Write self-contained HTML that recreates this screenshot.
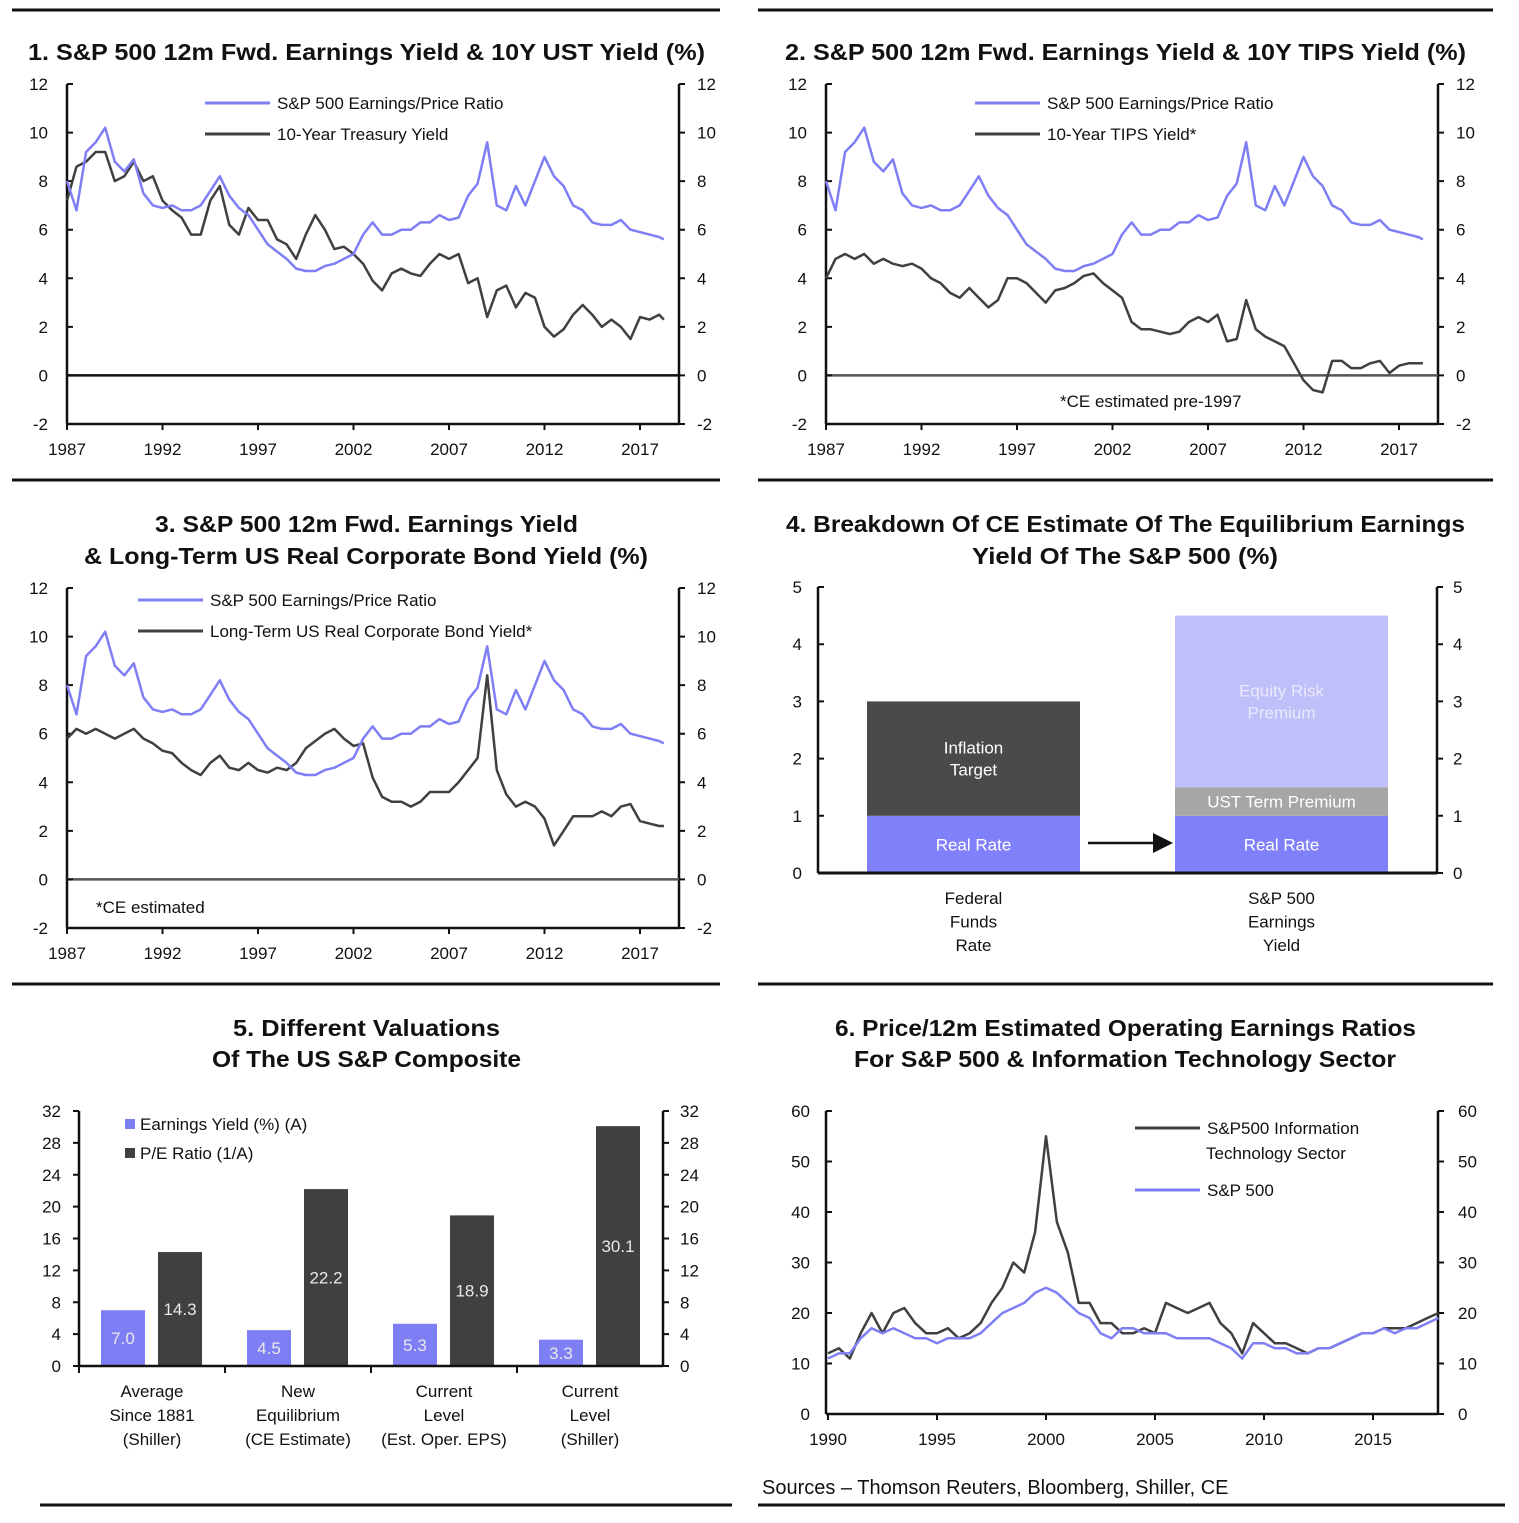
<!DOCTYPE html>
<html><head><meta charset="utf-8"><style>
html,body{margin:0;padding:0;background:#fff;}
svg{display:block;font-family:"Liberation Sans",sans-serif;}
.t{font-weight:bold;font-size:23px;fill:#111;}
.k{font-size:17px;fill:#111;}
</style></head><body>
<svg id="c" width="1519" height="1523" viewBox="0 0 1519 1523" xmlns="http://www.w3.org/2000/svg">
<g stroke="#111" stroke-width="3">
<line x1="12" y1="10" x2="720" y2="10"/><line x1="758" y1="10" x2="1493" y2="10"/>
<line x1="12" y1="480" x2="720" y2="480"/><line x1="758" y1="480" x2="1493" y2="480"/>
<line x1="12" y1="984" x2="720" y2="984"/><line x1="758" y1="984" x2="1493" y2="984"/>
<line x1="40" y1="1505" x2="732" y2="1505"/><line x1="758" y1="1505" x2="1505" y2="1505"/>
</g>
<text class="t" x="28" y="60" textLength="677" lengthAdjust="spacingAndGlyphs">1. S&amp;P 500 12m Fwd. Earnings Yield &amp; 10Y UST Yield (%)</text>
<text class="t" x="785" y="60" textLength="681" lengthAdjust="spacingAndGlyphs">2. S&amp;P 500 12m Fwd. Earnings Yield &amp; 10Y TIPS Yield (%)</text>
<text class="t" x="155" y="532" textLength="423" lengthAdjust="spacingAndGlyphs">3. S&amp;P 500 12m Fwd. Earnings Yield</text>
<text class="t" x="84" y="564" textLength="564" lengthAdjust="spacingAndGlyphs">&amp; Long-Term US Real Corporate Bond Yield (%)</text>
<text class="t" x="786" y="532" textLength="679" lengthAdjust="spacingAndGlyphs">4. Breakdown Of CE Estimate Of The Equilibrium Earnings</text>
<text class="t" x="972" y="564" textLength="306" lengthAdjust="spacingAndGlyphs">Yield Of The S&amp;P 500 (%)</text>
<text class="t" x="233" y="1036" textLength="267" lengthAdjust="spacingAndGlyphs">5. Different Valuations</text>
<text class="t" x="212" y="1067" textLength="309" lengthAdjust="spacingAndGlyphs">Of The US S&amp;P Composite</text>
<text class="t" x="835" y="1036" textLength="581" lengthAdjust="spacingAndGlyphs">6. Price/12m Estimated Operating Earnings Ratios</text>
<text class="t" x="854" y="1067" textLength="542" lengthAdjust="spacingAndGlyphs">For S&amp;P 500 &amp; Information Technology Sector</text>
<text x="762" y="1494" font-size="20" fill="#111">Sources – Thomson Reuters, Bloomberg, Shiller, CE</text>
</svg>
<script>
const years = [1987,1987.5,1988,1988.5,1989,1989.5,1990,1990.5,1991,1991.5,1992,1992.5,1993,1993.5,1994,1994.5,1995,1995.5,1996,1996.5,1997,1997.5,1998,1998.5,1999,1999.5,2000,2000.5,2001,2001.5,2002,2002.5,2003,2003.5,2004,2004.5,2005,2005.5,2006,2006.5,2007,2007.5,2008,2008.5,2009,2009.5,2010,2010.5,2011,2011.5,2012,2012.5,2013,2013.5,2014,2014.5,2015,2015.5,2016,2016.5,2017,2017.5,2018,2018.25];
const epRatio = [8.0,6.8,9.2,9.6,10.2,8.8,8.4,8.9,7.5,7.0,6.9,7.0,6.8,6.8,7.0,7.6,8.2,7.4,6.9,6.6,6.0,5.4,5.1,4.8,4.4,4.3,4.3,4.5,4.6,4.8,5.0,5.8,6.3,5.8,5.8,6.0,6.0,6.3,6.3,6.6,6.4,6.5,7.4,7.9,9.6,7.0,6.8,7.8,7.0,8.0,9.0,8.2,7.8,7.0,6.8,6.3,6.2,6.2,6.4,6.0,5.9,5.8,5.7,5.6];
const ust10y = [7.2,8.6,8.8,9.2,9.2,8.0,8.2,8.8,8.0,8.2,7.2,6.8,6.5,5.8,5.8,7.2,7.8,6.2,5.8,6.9,6.4,6.4,5.6,5.4,4.8,5.8,6.6,6.0,5.2,5.3,5.0,4.6,3.9,3.5,4.2,4.4,4.2,4.1,4.6,5.0,4.8,5.0,3.8,4.0,2.4,3.5,3.7,2.8,3.4,3.2,2.0,1.6,1.9,2.5,2.9,2.5,2.0,2.3,2.0,1.5,2.4,2.3,2.5,2.3];
const tips10y = [4.0,4.8,5.0,4.8,5.0,4.6,4.8,4.6,4.5,4.6,4.4,4.0,3.8,3.4,3.2,3.6,3.2,2.8,3.1,4.0,4.0,3.8,3.4,3.0,3.5,3.6,3.8,4.1,4.2,3.8,3.5,3.2,2.2,1.9,1.9,1.8,1.7,1.8,2.2,2.4,2.2,2.5,1.4,1.5,3.1,1.9,1.6,1.4,1.2,0.5,-0.2,-0.6,-0.7,0.6,0.6,0.3,0.3,0.5,0.6,0.1,0.4,0.5,0.5,0.5];
const corpBond = [5.8,6.2,6.0,6.2,6.0,5.8,6.0,6.2,5.8,5.6,5.3,5.2,4.8,4.5,4.3,4.8,5.1,4.6,4.5,4.8,4.5,4.4,4.6,4.5,4.8,5.4,5.7,6.0,6.2,5.8,5.5,5.6,4.2,3.4,3.2,3.2,3.0,3.2,3.6,3.6,3.6,4.0,4.5,5.0,8.4,4.5,3.5,3.0,3.2,3.0,2.5,1.4,2.0,2.6,2.6,2.6,2.8,2.6,3.0,3.1,2.4,2.3,2.2,2.2];
const yearTicks = [1987,1992,1997,2002,2007,2012,2017];
const yieldTicks = [-2,0,2,4,6,8,10,12];

const peYears = [1990,1990.5,1991,1991.5,1992,1992.5,1993,1993.5,1994,1994.5,1995,1995.5,1996,1996.5,1997,1997.5,1998,1998.5,1999,1999.5,2000,2000.5,2001,2001.5,2002,2002.5,2003,2003.5,2004,2004.5,2005,2005.5,2006,2006.5,2007,2007.5,2008,2008.5,2009,2009.5,2010,2010.5,2011,2011.5,2012,2012.5,2013,2013.5,2014,2014.5,2015,2015.5,2016,2016.5,2017,2017.5,2018];
const peIT = [12,13,11,16,20,16,20,21,18,16,16,17,15,16,18,22,25,30,28,36,55,38,32,22,22,18,18,16,16,17,16,22,21,20,21,22,18,16,12,18,16,14,14,13,12,13,13,14,15,16,16,17,17,17,18,19,20];
const peSPX = [11,12,12,15,17,16,17,16,15,15,14,15,15,15,16,18,20,21,22,24,25,24,22,20,19,16,15,17,17,16,16,16,15,15,15,15,14,13,11,14,14,13,13,12,12,13,13,14,15,16,16,17,16,17,17,18,19];
const peYearTicks = [1990,1995,2000,2005,2010,2015];
const peTicks = [0,10,20,30,40,50,60];

const valCats = [["Average","Since 1881","(Shiller)"],["New","Equilibrium","(CE Estimate)"],["Current","Level","(Est. Oper. EPS)"],["Current","Level","(Shiller)"]];
const valYield = [7.0,4.5,5.3,3.3];
const valPE = [14.3,22.2,18.9,30.1];
const valTicks = [0,4,8,12,16,20,24,28,32];

const eqCats = [["Federal","Funds","Rate"],["S&P 500","Earnings","Yield"]];
const eqRealRate = [1,1];
const eqInflation = [2,0];
const eqTermPrem = [0,0.5];
const eqRiskPrem = [0,3];
const eqTicks = [0,1,2,3,4,5];

const BLUE="#7f7ff5", DARK="#404040";
const svg=document.getElementById('c');
const NS="http://www.w3.org/2000/svg";
function mk(tag,attrs,txt){const e=document.createElementNS(NS,tag);for(const k in attrs)e.setAttribute(k,attrs[k]);if(txt!==undefined)e.textContent=txt;svg.appendChild(e);return e;}

function timePanel(p){
  const sx=y=>p.xl+(y-p.y0)*(p.x1-p.xl)/(p.yr1-p.y0);
  const sy=v=>p.top+(p.vmax-v)*(p.bot-p.top)/(p.vmax-p.vmin);
  let a=mk('path',{d:`M${p.ax0},${p.top}V${p.bot}M${p.ax1},${p.top}V${p.bot}`,stroke:'#111','stroke-width':2.5,fill:'none'});
  
  
  let b=mk('line',{x1:p.ax0,x2:p.ax1,y1:p.bot,y2:p.bot,stroke:'#111','stroke-width':2.5});
  
  
  if(p.vmin<0){
    let z=mk('line',{x1:p.ax0,x2:p.ax1,y1:sy(0),y2:sy(0),stroke:p.zeroColor,'stroke-width':2.5});
    
    
  }
  p.vt.forEach(v=>{
    const y=sy(v);
    let tk=mk('path',{d:`M${p.ax0},${y}h6M${p.ax1},${y}h6`,stroke:'#111','stroke-width':2});
    
    
    let l=mk('text',{x:p.ax0-p.lo,y:y+6,'text-anchor':'end',class:'k'},String(v));
    
    
    let r=mk('text',{x:p.ax1+p.ro,y:y+6,class:'k'},String(v));
    
    
  });
  p.xt.forEach(yr=>{
    const x=sx(yr);
    let tk=mk('line',{x1:x,x2:x,y1:p.bot,y2:p.bot+6,stroke:'#111','stroke-width':2});
    
    
    let l=mk('text',{x:x,y:p.bot+31,'text-anchor':'middle',class:'k'},String(yr));
    
    
  });
  p.series.forEach(s=>{
    const d=s.vals.map((v,i)=>(i?'L':'M')+sx(s.xs[i]).toFixed(1)+','+sy(v).toFixed(1)).join('');
    let ln=mk('path',{d:d,stroke:s.color,'stroke-width':2.5,fill:'none','stroke-linejoin':'round'});
    
    
  });
  p.legend.forEach(g=>{
    if(g.color){
      let ll=mk('line',{x1:g.x,x2:g.x+65,y1:g.y,y2:g.y,stroke:g.color,'stroke-width':3});
      
      
    }
    let lt=mk('text',{x:g.x+(g.color?72:0),y:g.y+6,class:'k'},g.text);
    
    
  });
}

timePanel({id:'chart1',xl:67,x1:640,y0:1987,yr1:2017,ax0:67,ax1:679,top:84,bot:424,vmin:-2,vmax:12,zeroColor:'#111',vt:yieldTicks,xt:yearTicks,lo:19,ro:18,
  series:[{name:'chart1-treasury-line',xs:years,vals:ust10y,color:DARK},{name:'chart1-ep-line',xs:years,vals:epRatio,color:BLUE}],
  legend:[{name:'chart1-legend-ep',x:205,y:103,color:BLUE,text:'S&P 500 Earnings/Price Ratio'},{name:'chart1-legend-treasury',x:205,y:134,color:DARK,text:'10-Year Treasury Yield'}]});
timePanel({id:'chart2',xl:826,x1:1399,y0:1987,yr1:2017,ax0:826,ax1:1438,top:84,bot:424,vmin:-2,vmax:12,zeroColor:'#555',vt:yieldTicks,xt:yearTicks,lo:19,ro:18,
  series:[{name:'chart2-tips-line',xs:years,vals:tips10y,color:DARK},{name:'chart2-ep-line',xs:years,vals:epRatio,color:BLUE}],
  legend:[{name:'chart2-legend-ep',x:975,y:103,color:BLUE,text:'S&P 500 Earnings/Price Ratio'},{name:'chart2-legend-tips',x:975,y:134,color:DARK,text:'10-Year TIPS Yield*'},{name:'chart2-footnote',x:1060,y:401,text:'*CE estimated pre-1997'}]});
timePanel({id:'chart3',xl:67,x1:640,y0:1987,yr1:2017,ax0:67,ax1:679,top:588,bot:928,vmin:-2,vmax:12,zeroColor:'#555',vt:yieldTicks,xt:yearTicks,lo:19,ro:18,
  series:[{name:'chart3-corp-bond-line',xs:years,vals:corpBond,color:DARK},{name:'chart3-ep-line',xs:years,vals:epRatio,color:BLUE}],
  legend:[{name:'chart3-legend-ep',x:138,y:600,color:BLUE,text:'S&P 500 Earnings/Price Ratio'},{name:'chart3-legend-corp-bond',x:138,y:631,color:DARK,text:'Long-Term US Real Corporate Bond Yield*'},{name:'chart3-footnote',x:96,y:907,text:'*CE estimated'}]});
timePanel({id:'chart6',xl:828,x1:1373,y0:1990,yr1:2015,ax0:826,ax1:1438,top:1111,bot:1414,vmin:0,vmax:60,zeroColor:'#111',vt:peTicks,xt:peYearTicks,lo:16,ro:20,
  series:[{name:'chart6-it-sector-line',xs:peYears,vals:peIT,color:DARK},{name:'chart6-spx-line',xs:peYears,vals:peSPX,color:BLUE}],
  legend:[{name:'chart6-legend-it',x:1135,y:1128,color:DARK,text:'S&P500 Information'},{name:'chart6-legend-it-line2',x:1206,y:1153,text:'Technology Sector'},{name:'chart6-legend-spx',x:1135,y:1190,color:BLUE,text:'S&P 500'}]});

(function(){
  const top=587,bot=873,vmax=5,ax0=818,ax1=1437;
  const sy=v=>bot-v*(bot-top)/vmax;
  const barX=[867,1175],barW=213;
  let a=mk('path',{d:`M${ax0},${top}V${bot}M${ax1},${top}V${bot}`,stroke:'#111','stroke-width':2.5,fill:'none'});
  
  
  eqTicks.forEach(v=>{
    const y=sy(v);
    let tk=mk('path',{d:`M${ax0},${y}h6M${ax1},${y}h6`,stroke:'#111','stroke-width':2});
    
    
    let l=mk('text',{x:ax0-16,y:y+6,'text-anchor':'end',class:'k'},String(v));
    
    
    let r=mk('text',{x:ax1+16,y:y+6,class:'k'},String(v));
    
    
  });
  const layers=[{vals:eqRealRate,color:'#8080fa',label:['Real Rate'],name:'real-rate'},{vals:eqInflation,color:'#4a4a4a',label:['Inflation','Target'],name:'inflation-target'},{vals:eqTermPrem,color:'#a6a6a6',label:['UST Term Premium'],name:'ust-term-premium'},{vals:eqRiskPrem,color:'#bfbffa',label:['Equity Risk','Premium'],name:'equity-risk-premium'}];
  eqCats.forEach((cat,i)=>{
    let base=0;
    layers.forEach(L=>{
      const v=L.vals[i]; if(!v) return;
      const y1=sy(base+v),y0=sy(base);
      let r=mk('rect',{x:barX[i],y:y1,width:barW,height:y0-y1,fill:L.color});
      
      
      const cy=(y0+y1)/2;
      L.label.forEach((s,j)=>{
        let t=mk('text',{x:barX[i]+barW/2,y:cy+6+(j-(L.label.length-1)/2)*22,'text-anchor':'middle',class:'k',style:'fill:'+(L.name==='equity-risk-premium'?'#eaeaff':'#fff')},s);
        
        
      });
      base+=v;
    });
    cat.forEach((s,j)=>{
      let t=mk('text',{x:barX[i]+barW/2,y:904+j*23.5,'text-anchor':'middle',class:'k'},s);
      
      
    });
  });
  let b=mk('line',{x1:ax0,x2:ax1,y1:bot,y2:bot,stroke:'#111','stroke-width':3});
  
  
  let ar=mk('path',{d:'M1088,843H1155',stroke:'#111','stroke-width':2.5});
  
  
  let ah=mk('path',{d:'M1153,833L1173,843L1153,853Z',fill:'#111'});
  
  
})();

(function(){
  const top=1111,bot=1366,vmax=32,ax0=79,ax1=663;
  const sy=v=>bot-v*(bot-top)/vmax;
  const gw=(ax1-ax0)/valCats.length;
  let a=mk('path',{d:`M${ax0},${top}V${bot}M${ax1},${top}V${bot}`,stroke:'#111','stroke-width':2.5,fill:'none'});
  
  
  valTicks.forEach(v=>{
    const y=sy(v);
    let tk=mk('path',{d:`M${ax0-6},${y}h6M${ax1},${y}h6`,stroke:'#111','stroke-width':2});
    
    
    let l=mk('text',{x:ax0-18,y:y+6,'text-anchor':'end',class:'k'},String(v));
    
    
    let r=mk('text',{x:ax1+17,y:y+6,class:'k'},String(v));
    
    
  });
  valCats.forEach((cat,i)=>{
    const g0=ax0+i*gw;
    [[valYield[i],BLUE,22,'earnings-yield'],[valPE[i],DARK,79,'pe-ratio']].forEach(([v,c,off,nm])=>{
      let r=mk('rect',{x:g0+off,y:sy(v),width:44,height:bot-sy(v),fill:c});
      
      
      let t=mk('text',{x:g0+off+22,y:sy(v/2)+6,'text-anchor':'middle',class:'k',style:'fill:#e8e8e8'},v.toFixed(1));
      
      
    });
    let tk=mk('line',{x1:g0,x2:g0,y1:bot,y2:bot+7,stroke:'#111','stroke-width':2});
    
    
    cat.forEach((s,j)=>{
      let t=mk('text',{x:g0+gw/2,y:1397+j*24,'text-anchor':'middle',class:'k'},s);
      
      
    });
  });
  let b=mk('line',{x1:ax0,x2:ax1,y1:bot,y2:bot,stroke:'#111','stroke-width':2.5});
  
  
  [['Earnings Yield (%) (A)',BLUE,1124,'chart5-legend-yield'],['P/E Ratio (1/A)',DARK,1153,'chart5-legend-pe']].forEach(([s,c,y,nm])=>{
    let q=mk('rect',{x:125,y:y-5,width:10,height:10,fill:c});
    
    
    let t=mk('text',{x:140,y:y+6,class:'k'},s);
    
    
  });
})();
</script>
</body></html>
